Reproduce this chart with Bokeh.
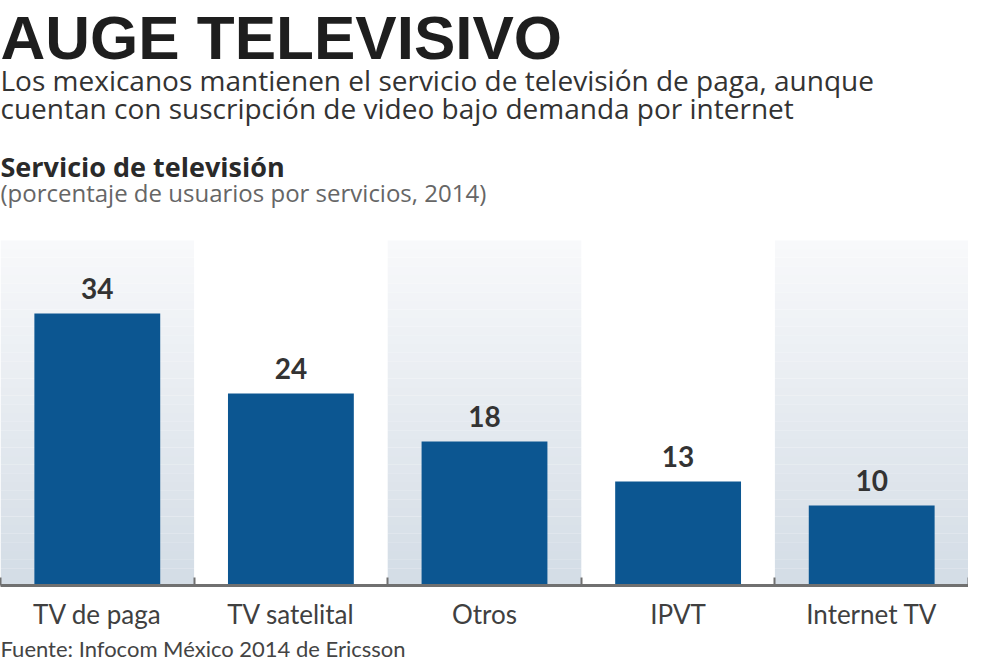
from bokeh.plotting import figure
from bokeh.models import Range1d, LinearAxis, FixedTicker, Label, Title
from bokeh.core.properties import value
from bokeh.embed import file_html
from bokeh.resources import INLINE

# ---- data ----
categories = ["TV de paga", "TV satelital", "Otros", "IPVT", "Internet TV"]
values = [34, 24, 18, 13, 10]
title_text = "AUGE TELEVISIVO"
subtitle_lines = [
    "Los mexicanos mantienen el servicio de televisión de paga, aunque",
    "cuentan con suscripción de video bajo demanda por internet",
]
chart_title = "Servicio de televisión"
chart_units = "(porcentaje de usuarios por servicios, 2014)"
source_text = "Fuente: Infocom México 2014 de Ericsson"

# ---- layout constants ----
FRAME_W, FRAME_H = 968, 585
PPU = 8.0  # pixels per percentage point
N = len(categories)
BAR_COLOR = "#0c5691"

def cy(canvas_y):
    """canvas pixel row (from top) -> data y"""
    return (FRAME_H - canvas_y) / PPU

p = figure(frame_width=FRAME_W, frame_height=FRAME_H,
           x_range=Range1d(0, N), y_range=Range1d(0, FRAME_H / PPU),
           x_axis_type=None, y_axis_type=None, title=None,
           toolbar_location=None, output_backend="svg",
           min_border_left=0, min_border_right=0, min_border_top=0,
           min_border_bottom=0)
p.outline_line_color = None
p.background_fill_color = "white"
p.border_fill_color = "white"
p.xgrid.visible = False
p.ygrid.visible = False

# ---- gradient background bands on alternating categories ----
band_top = cy(240)
steps = 40
bottom_rgb = (0xd4, 0xdd, 0xe6)
top_rgb = (0xf8, 0xf9, 0xfb)
lefts, rights, bots, tops, cols = [], [], [], [], []
for i in range(0, N, 2):
    for s in range(steps):
        t = s / (steps - 1)
        r = int(bottom_rgb[0] + (top_rgb[0] - bottom_rgb[0]) * t)
        g = int(bottom_rgb[1] + (top_rgb[1] - bottom_rgb[1]) * t)
        b = int(bottom_rgb[2] + (top_rgb[2] - bottom_rgb[2]) * t)
        lefts.append(i)
        rights.append(i + 1)
        bots.append(band_top * s / steps)
        tops.append(band_top * (s + 1) / steps + 0.01)
        cols.append("#%02x%02x%02x" % (r, g, b))
p.quad(left=lefts, right=rights, bottom=bots, top=tops, fill_color=cols, line_color=None)

# ---- bars ----
centers = [i + 0.5 for i in range(N)]
p.vbar(x=centers, top=values, width=0.65, fill_color=BAR_COLOR, line_color=None)

# ---- value labels ----
p.text(x=centers, y=values, text=[str(v) for v in values],
       text_font=value("Lato"), text_font_style="bold", text_font_size="28px",
       text_color="#333333", text_align="center", text_baseline="alphabetic",
       y_offset=-25)

# ---- x axis ----
ax = LinearAxis(ticker=FixedTicker(ticks=centers, minor_ticks=list(range(N + 1))))
ax.major_label_overrides = {c: name for c, name in zip(centers, categories)}
ax.axis_line_color = "#707070"
ax.axis_line_width = 3
ax.major_tick_line_color = None
ax.major_tick_in = 0
ax.major_tick_out = 0
ax.minor_tick_in = 8
ax.minor_tick_out = 0
ax.minor_tick_line_color = "#707070"
ax.minor_tick_line_width = 2
ax.major_label_standoff = 12
ax.major_label_text_font = "Lato"
ax.major_label_text_font_size = "26px"
ax.major_label_text_color = "#404040"
p.add_layout(ax, "below")

# ---- source line below the axis ----
p.add_layout(Title(text=source_text, align="left", text_font="Lato",
                   text_font_size="22px", text_font_style="normal",
                   text_color="#444444", standoff=0, offset=0), "below")

# ---- header texts ----
def add_label(text, baseline_y, size, font, style="normal", color="#333333"):
    # empirical correction for where the alphabetic baseline is drawn
    corr = 0.22 * size + 4.5
    p.add_layout(Label(x=0, y=cy(baseline_y - corr), text=text, text_font=font,
                       text_font_size="%dpx" % size, text_font_style=style,
                       text_color=color, text_baseline="alphabetic",
                       text_align="left"))

add_label(title_text, 55, 62, "Liberation Sans", "bold", "#1e1e1e")
add_label(subtitle_lines[0], 90, 28, "Open Sans", "normal", "#333333")
add_label(subtitle_lines[1], 118, 28, "Open Sans", "normal", "#333333")
add_label(chart_title, 176, 27, "Open Sans", "bold", "#2a2a2a")
add_label(chart_units, 202, 24, "Open Sans", "normal", "#666666")

open("out.html", "w").write(file_html(p, INLINE))
